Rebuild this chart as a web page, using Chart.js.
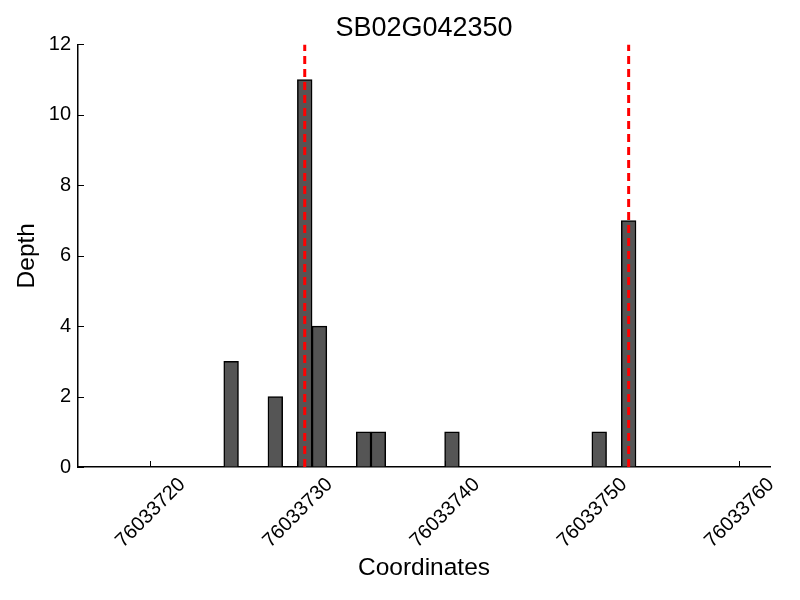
<!DOCTYPE html>
<html>
<head>
<meta charset="utf-8">
<script src="https://cdn.jsdelivr.net/npm/chart.js@4/dist/chart.umd.min.js"></script>
<style>
  html, body { margin: 0; padding: 0; background: #fff; }
  #wrap { width: 800px; height: 600px; }
</style>
</head>
<body>
<div id="wrap"><canvas id="depthChart" width="800" height="600"></canvas></div>
<script>
// bin centres (bins are 1 bp wide) and depth per bin
const positions = [76033725.5, 76033728.5, 76033730.5, 76033731.5, 76033734.5,
                   76033735.5, 76033740.5, 76033750.5, 76033752.5];
const depths = [3, 2, 11, 4, 1, 1, 1, 1, 7];
// red dashed markers
const markers = [76033730.5, 76033752.5];
const xTicks = [76033720, 76033730, 76033740, 76033750, 76033760];
const yTicks = [0, 2, 4, 6, 8, 10, 12];

Chart.defaults.font.family = '"Liberation Sans", Arial, sans-serif';
Chart.defaults.color = '#000';

// matplotlib style ticks pointing into the plot
const innerTicks = {
  id: 'innerTicks',
  afterDraw(chart) {
    const ctx = chart.ctx;
    const xs = chart.scales.x, ys = chart.scales.y;
    const area = chart.chartArea;
    ctx.save();
    ctx.strokeStyle = '#000';
    ctx.lineWidth = 1;
    ctx.beginPath();
    xTicks.forEach(v => {
      const px = Math.round(xs.getPixelForValue(v)) + 0.5;
      ctx.moveTo(px, area.bottom);
      ctx.lineTo(px, area.bottom - 6);
    });
    yTicks.forEach(v => {
      const py = Math.round(ys.getPixelForValue(v)) + 0.5;
      ctx.moveTo(area.left, py);
      ctx.lineTo(area.left + 6, py);
    });
    ctx.stroke();
    ctx.restore();
  }
};

const markerSets = markers.map(m => ({
  type: 'line',
  data: [{x: m, y: 0}, {x: m, y: 12}],
  borderColor: '#ff0000',
  borderWidth: 3,
  borderDash: [8, 5],
  pointRadius: 0,
  fill: false,
  order: 0
}));

new Chart(document.getElementById('depthChart'), {
  type: 'bar',
  data: {
    datasets: [
      {
        data: positions.map((p, i) => ({x: p, y: depths[i]})),
        backgroundColor: '#555555',
        borderColor: '#000',
        borderWidth: 1.5,
        barPercentage: 1,
        categoryPercentage: 1,
        order: 1
      },
      ...markerSets
    ]
  },
  options: {
    responsive: false,
    animation: false,
    layout: { padding: { left: 0, right: 30, top: 0, bottom: 0 } },
    plugins: {
      legend: { display: false },
      tooltip: { enabled: false },
      title: {
        display: true,
        text: 'SB02G042350',
        fullSize: false,
        font: { size: 27, weight: 'normal' },
        padding: { top: 12, bottom: 0 }
      }
    },
    scales: {
      x: {
        type: 'linear',
        offset: false,
        min: 76033715.1,
        max: 76033762.1,
        afterBuildTicks: s => { s.ticks = xTicks.map(v => ({value: v})); },
        afterFit: s => { s.height = 133; },
        grid: { display: true, drawOnChartArea: false, drawTicks: false, offset: false },
        border: { display: true, color: '#000', width: 1.5 },
        ticks: {
          autoSkip: false,
          maxRotation: 45,
          minRotation: 45,
          padding: 6,
          labelOffset: 32,
          font: { size: 20 },
          callback: v => String(v)
        },
        title: {
          display: true,
          text: 'Coordinates',
          font: { size: 24.5 },
          padding: { top: 0, bottom: 17 }
        }
      },
      y: {
        min: 0,
        max: 12,
        afterBuildTicks: s => { s.ticks = yTicks.map(v => ({value: v})); },
        afterFit: s => { s.width = 78; },
        grid: { display: true, drawOnChartArea: false, drawTicks: false },
        border: { display: true, color: '#000', width: 1.5 },
        ticks: { padding: 7, font: { size: 20 } },
        title: {
          display: true,
          text: 'Depth',
          font: { size: 24.5 },
          padding: { top: 13, bottom: 0 }
        }
      }
    }
  },
  plugins: [innerTicks]
});
</script>
</body>
</html>
